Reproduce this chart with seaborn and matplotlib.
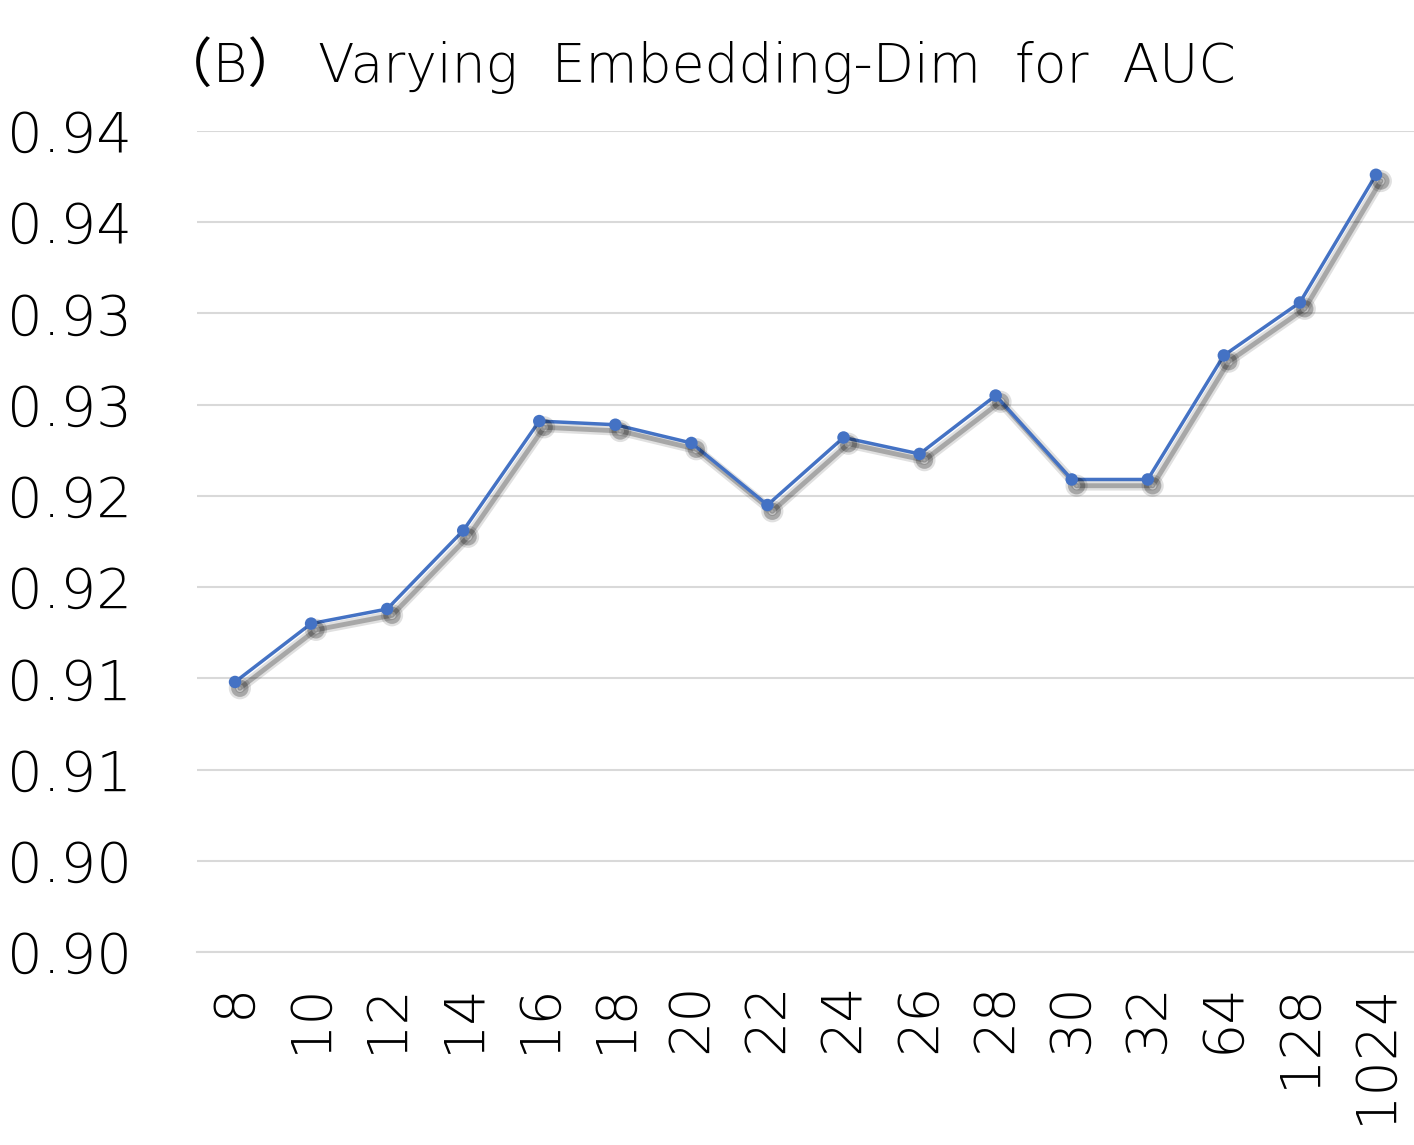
import numpy as np
import pandas as pd
import matplotlib
matplotlib.use('Agg')
import matplotlib.pyplot as plt
import matplotlib.patheffects as pe
from matplotlib.ticker import FixedLocator
import seaborn as sns

# values
dims = ['8', '10', '12', '14', '16', '18', '20', '22', '24', '26', '28', '30', '32', '64', '128', '1024']
auc = [0.9148, 0.9180, 0.9188, 0.9231, 0.9291, 0.9289, 0.9279, 0.9245, 0.9282, 0.9273,
       0.9305, 0.9259, 0.9259, 0.9327, 0.9356, 0.9426]
yticks = [0.900, 0.905, 0.910, 0.915, 0.920, 0.925, 0.930, 0.935, 0.940, 0.945]
ytick_labels = ['0.90', '0.90', '0.91', '0.91', '0.92', '0.92', '0.93', '0.93', '0.94', '0.94']

df = pd.DataFrame({'dim': dims, 'auc': auc})

sns.set_style('white')
plt.rcParams['font.family'] = ['DejaVu Sans', 'Noto Sans CJK KR']
plt.rcParams['font.weight'] = 'light'

fig = plt.figure(figsize=(14.14, 11.45), dpi=100)
ax = fig.add_axes([197 / 1414, 1 - 952 / 1145, 1 - 197 / 1414, (952 - 131) / 1145])

# soft drop shadow like the Excel original: a wide faint layer plus a narrower darker one
shadow = [pe.SimpleLineShadow(offset=(3.5, -4.5), shadow_color='black', alpha=0.12, linewidth=7),
          pe.SimpleLineShadow(offset=(3.5, -4.5), shadow_color='black', alpha=0.25, linewidth=3.5),
          pe.Normal()]
sns.lineplot(data=df, x='dim', y='auc', ax=ax, color='#4472C4', linewidth=2.5,
             marker='o', markersize=9, markeredgewidth=0, sort=False, path_effects=shadow)

ax.set_xlim(-0.5, len(dims) - 0.5)
ax.set_ylim(0.900, 0.945)
ax.set_yticks(yticks)
ax.set_yticklabels(ytick_labels)
ax.yaxis.grid(True, color='#D9D9D9', linewidth=1.5)
ax.set_axisbelow(True)

ax.set_xticks(range(len(dims)))
ax.set_xticklabels(dims, rotation=90, va='top', ha='center')
ax.xaxis.set_minor_locator(FixedLocator(np.arange(-0.5, len(dims), 1.0)))
ax.tick_params(axis='x', which='major', length=0, pad=22, labelsize=40, labelcolor='black')
ax.tick_params(axis='x', which='minor', length=18, width=1.5, color='#D9D9D9')
ax.tick_params(axis='y', length=0, pad=137, labelsize=40.5, labelcolor='black')
for lbl in ax.get_yticklabels():
    lbl.set_horizontalalignment('left')

for side in ['left', 'right', 'top']:
    ax.spines[side].set_visible(False)
ax.spines['bottom'].set_color('#D9D9D9')
ax.spines['bottom'].set_linewidth(1.5)
ax.set_xlabel('')
ax.set_ylabel('')

fig.text(0.5 - 10 / 1414, 1 - 65 / 1145, '（B） Varying  Embedding-Dim  for  AUC', ha='center', va='center',
         fontsize=38.5, color='black')

fig.savefig('out.png', dpi=100)
